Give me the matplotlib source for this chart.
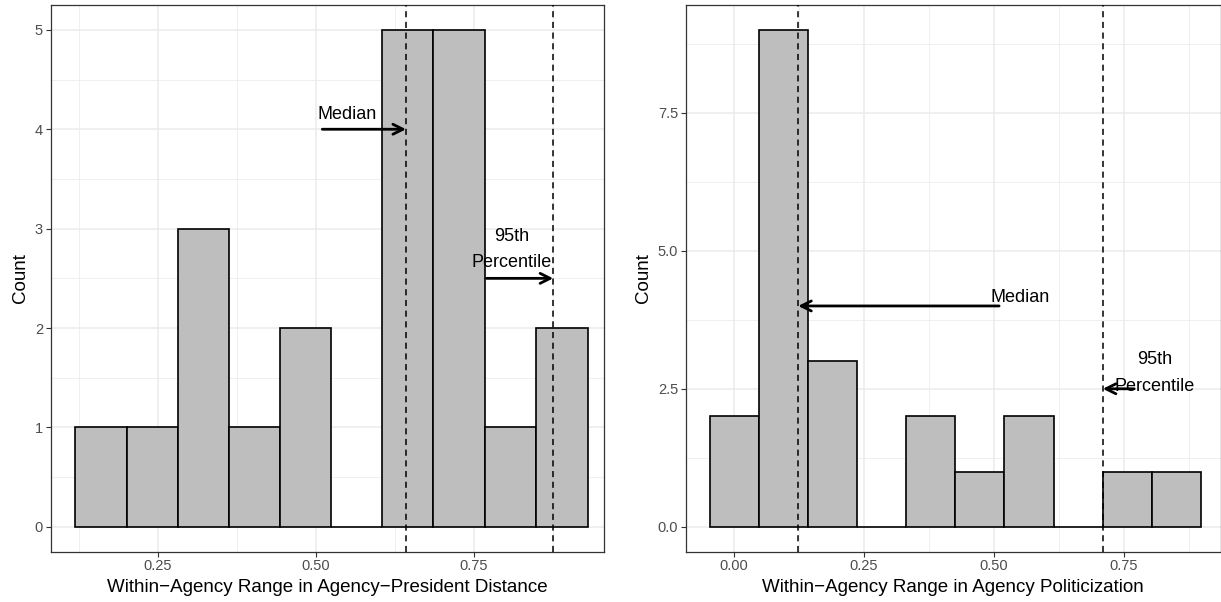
import matplotlib.pyplot as plt
import numpy as np

plt.rcParams['font.family'] = ['Liberation Sans', 'DejaVu Sans']

# histogram 1: agency-president distance
edges_dist = [0.119, 0.2006, 0.2819, 0.3625, 0.4431, 0.5238, 0.605, 0.686, 0.7675, 0.849, 0.930]
counts_dist = [1, 1, 3, 1, 2, 0, 5, 5, 1, 2]
median_dist = 0.6425
p95_dist = 0.8756

# histogram 2: agency politicization
edges_pol = [-0.0472, 0.0479, 0.1422, 0.2365, 0.3316, 0.4259, 0.5202, 0.6153, 0.7096, 0.8039, 0.899]
counts_pol = [2, 9, 3, 0, 2, 1, 2, 0, 1, 1]
median_pol = 0.1235
p95_pol = 0.7096

W, H = 1221, 602
fig = plt.figure(figsize=(W / 100, H / 100), dpi=100)
ax1 = fig.add_axes([50.7 / W, 50.3 / H, 553.3 / W, 546.7 / H])
ax2 = fig.add_axes([685.7 / W, 50.3 / H, (W - 685.7) / W, 546.7 / H])


def style(ax, xmaj, xmin_, ymaj, ymin_):
    ax.set_xticks(xmaj)
    ax.set_xticks(xmin_, minor=True)
    ax.set_yticks(ymaj)
    ax.set_yticks(ymin_, minor=True)
    ax.grid(which='major', color='#EBEBEB', lw=1.1, zorder=0)
    ax.grid(which='minor', color='#EBEBEB', lw=0.55, zorder=0)
    ax.set_axisbelow(True)
    ax.tick_params(which='minor', length=0)
    ax.tick_params(which='major', length=3.5, width=0.8, color='#333333',
                   labelsize=10.5, labelcolor='#4D4D4D', pad=2)
    for s in ax.spines.values():
        s.set_color('#333333')
        s.set_linewidth(0.9)


def panel(ax, edges, counts, med, p95, xlabel):
    e = np.array(edges)
    ax.bar(e[:-1], counts, width=np.diff(e), align='edge', color='#BEBEBE',
           edgecolor='black', linewidth=1.2, zorder=2)
    ax.axvline(med, color='black', ls=(0, (4, 3)), lw=1.1, zorder=3)
    ax.axvline(p95, color='black', ls=(0, (4, 3)), lw=1.1, zorder=3)
    ax.annotate('', xy=(med, 4), xytext=(0.51, 4),
                arrowprops=dict(arrowstyle='->', lw=2, color='black',
                                mutation_scale=18, shrinkA=0, shrinkB=0), zorder=4)
    ax.annotate('', xy=(p95, 2.5), xytext=(0.77, 2.5),
                arrowprops=dict(arrowstyle='->', lw=2, color='black',
                                mutation_scale=18, shrinkA=0, shrinkB=0), zorder=4)
    ax.text(0.55, 4.15, 'Median', ha='center', va='center', fontsize=13, zorder=5)
    ax.text(0.81, 2.79, '95th\nPercentile', ha='center', va='center',
            fontsize=13, linespacing=1.75, zorder=5)
    ax.set_xlabel(xlabel, fontsize=13.5, labelpad=4)
    ax.set_ylabel('Count', fontsize=13.5, labelpad=4)


panel(ax1, edges_dist, counts_dist, median_dist, p95_dist,
      'Within\u2212Agency Range in Agency\u2212President Distance')
ax1.set_xlim(0.080, 0.956)
ax1.set_ylim(-0.25, 5.25)
style(ax1, [0.25, 0.5, 0.75], [0.125, 0.375, 0.625, 0.875],
      [0, 1, 2, 3, 4, 5], [0.5, 1.5, 2.5, 3.5, 4.5])
ax1.set_xticklabels(['0.25', '0.50', '0.75'])

panel(ax2, edges_pol, counts_pol, median_pol, p95_pol,
      'Within\u2212Agency Range in Agency Politicization')
ax2.set_xlim(-0.093, 0.937)
ax2.set_ylim(-0.45, 9.45)
style(ax2, [0, 0.25, 0.5, 0.75], [0.125, 0.375, 0.625, 0.875],
      [0, 2.5, 5, 7.5], [1.25, 3.75, 6.25, 8.75])
ax2.set_xticklabels(['0.00', '0.25', '0.50', '0.75'])
ax2.set_yticklabels(['0.0', '2.5', '5.0', '7.5'])

fig.savefig('out.png', dpi=100)
